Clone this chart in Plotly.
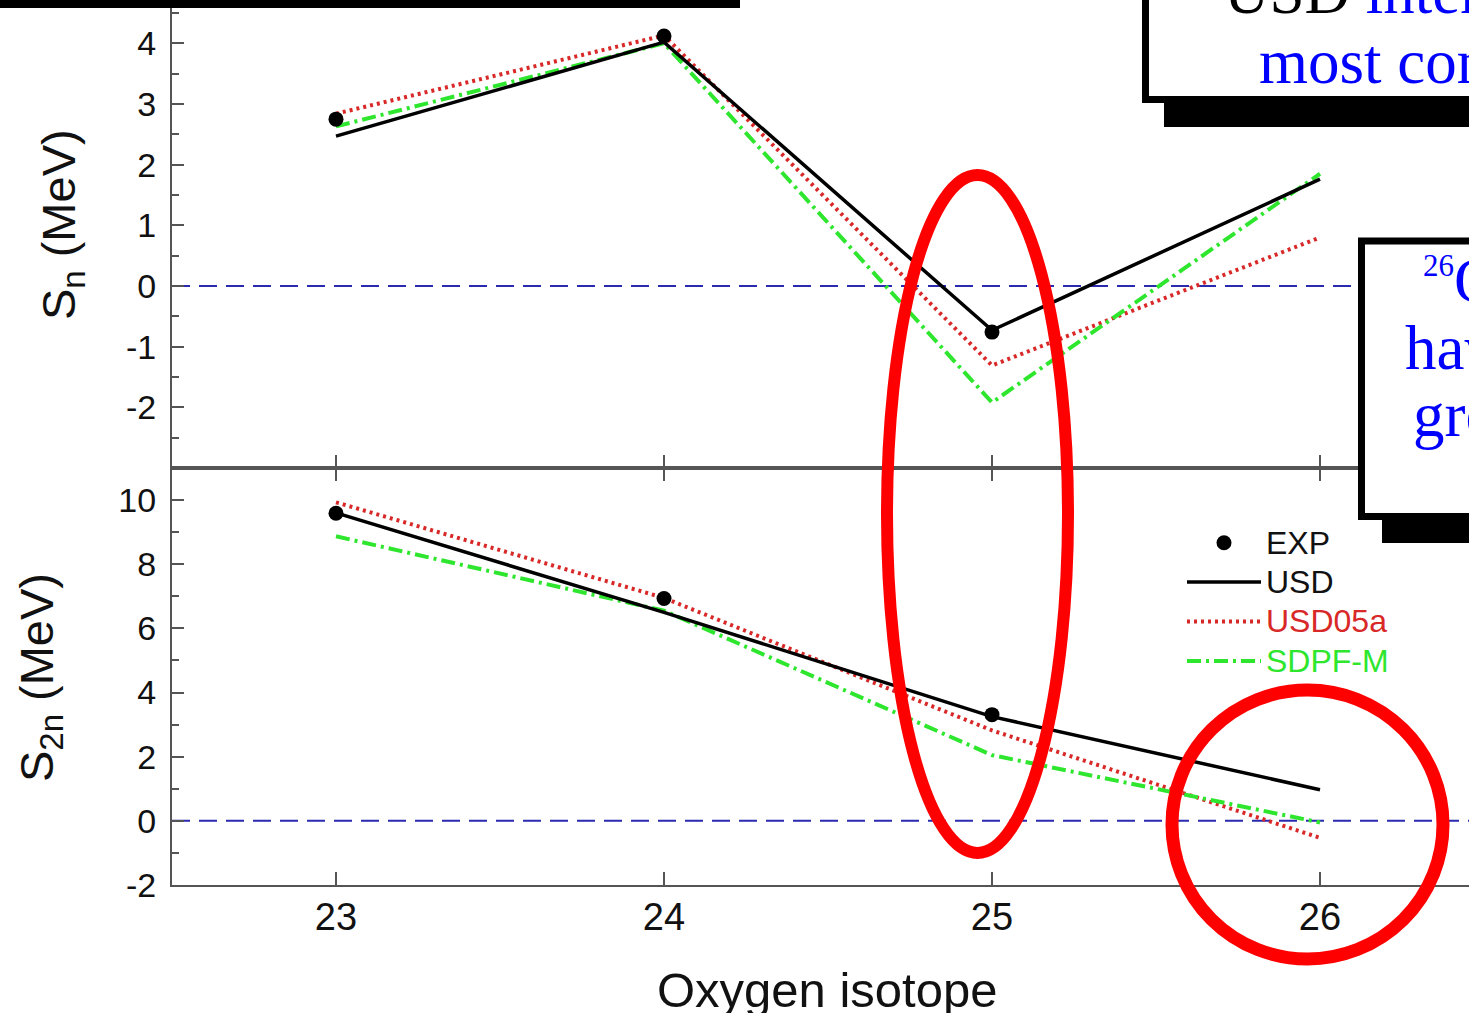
import plotly.graph_objects as go

W, H = 1469, 1013

isotopes = [23, 24, 25, 26]
exp_iso = [23, 24, 25]

# Sn (MeV)
sn_exp = [2.75, 4.12, -0.76]
sn_usd = [2.47, 4.02, -0.73, 1.76]
sn_usd05a = [2.84, 4.13, -1.31, 0.80]
sn_sdpfm = [2.63, 4.00, -1.92, 1.85]

# S2n (MeV)
s2n_exp = [9.59, 6.93, 3.31]
s2n_usd = [9.60, 6.50, 3.25, 0.97]
s2n_usd05a = [9.93, 6.95, 2.82, -0.53]
s2n_sdpfm = [8.87, 6.55, 2.05, -0.05]

sn_ticks = [-2, -1, 0, 1, 2, 3, 4]
s2n_ticks = [-2, 0, 2, 4, 6, 8, 10]

BLACK = "#000000"
RED = "#d82828"
GREEN = "#2ee62e"
BLUE_DASH = "#2a2ab0"
AXIS = "#555555"


def px(x):
    return x / W


def py(y):
    return 1 - y / H


def lbl(v):
    return str(v)  # plain hyphen minus, as in the original


fig = go.Figure()

series = [
    ("USD05a", RED, "3px,4px", 2, 4),
    ("SDPF-M", GREEN, "14px,5px,3px,5px", 3, 4),
    ("USD", BLACK, "solid", 1, 3.5),
]
top_vals = {"USD": sn_usd, "USD05a": sn_usd05a, "SDPF-M": sn_sdpfm}
bot_vals = {"USD": s2n_usd, "USD05a": s2n_usd05a, "SDPF-M": s2n_sdpfm}

for name, col, dash, rank, lw in series:
    label = f"<span style='font-size:32px;color:{col if col != BLACK else '#111'}'>{name}</span>"
    fig.add_trace(go.Scatter(x=isotopes, y=top_vals[name], mode="lines",
                             line=dict(color=col, width=lw, dash=dash),
                             xaxis="x", yaxis="y", showlegend=False))
    fig.add_trace(go.Scatter(x=isotopes, y=bot_vals[name], mode="lines",
                             line=dict(color=col, width=lw, dash=dash),
                             xaxis="x2", yaxis="y2", name=label, legendrank=rank))

fig.add_trace(go.Scatter(x=exp_iso, y=sn_exp, mode="markers",
                         marker=dict(color=BLACK, size=15), xaxis="x", yaxis="y",
                         showlegend=False))
fig.add_trace(go.Scatter(x=exp_iso, y=s2n_exp, mode="markers",
                         marker=dict(color=BLACK, size=15), xaxis="x2", yaxis="y2",
                         name="<span style='font-size:32px;color:#111'>EXP</span>",
                         legendrank=0))

x_range = [22.5, 22.5 + (W - 172) / 328.0]
top_dom = [py(468), 1]
bot_dom = [py(885), py(468)]
x_dom = [px(172), 1]

SANS = "Liberation Sans, Arial, sans-serif"
tickfont_y = dict(family=SANS, size=34, color="#111")
tickfont_x = dict(family=SANS, size=38, color="#111")

common_x = dict(range=x_range, domain=x_dom, tickvals=isotopes, showline=True,
                linecolor=AXIS, linewidth=2, ticks="inside", ticklen=13,
                tickwidth=2, tickcolor=AXIS, showgrid=False, zeroline=False,
                automargin=False)

fig.update_layout(
    width=W, height=H,
    margin=dict(l=0, r=0, t=0, b=0, autoexpand=False),
    paper_bgcolor="white", plot_bgcolor="white",
    xaxis=dict(common_x, anchor="y", showticklabels=False),
    yaxis=dict(domain=top_dom, range=[-3, -3 + 468 / 60.67], anchor="x",
               tickvals=sn_ticks, ticktext=[lbl(v) for v in sn_ticks],
               showline=True, linecolor=AXIS,
               linewidth=2, ticks="inside", ticklen=12, tickwidth=2, tickcolor=AXIS,
               minor=dict(ticks="inside", ticklen=7, tickcolor=AXIS, tickwidth=2,
                          tickvals=[-2.5, -1.5, -0.5, 0.5, 1.5, 2.5, 3.5, 4.5]),
               tickfont=tickfont_y, ticklabelstandoff=7, showgrid=False,
               zeroline=False, automargin=False),
    xaxis2=dict(common_x, anchor="y2", mirror="ticks", tickfont=tickfont_x,
                ticklabelstandoff=-3),
    yaxis2=dict(domain=bot_dom, range=[-2, 11], anchor="x2",
                tickvals=s2n_ticks, ticktext=[lbl(v) for v in s2n_ticks],
                showline=True, linecolor=AXIS,
                linewidth=2, ticks="inside", ticklen=12, tickwidth=2, tickcolor=AXIS,
                minor=dict(ticks="inside", ticklen=7, tickcolor=AXIS, tickwidth=2,
                           tickvals=[-1, 1, 3, 5, 7, 9]),
                tickfont=tickfont_y, ticklabelstandoff=7, showgrid=False,
                zeroline=False, automargin=False),
    legend=dict(x=px(1182), y=py(518), xanchor="left", yanchor="top",
                bgcolor="rgba(0,0,0,0)", itemwidth=74,
                font=dict(family=SANS, size=28, color="#111"),
                tracegroupgap=0),
    showlegend=True,
)

# zero reference lines
for yref, xref in (("y", "x"), ("y2", "x2")):
    fig.add_shape(type="line", xref=f"{xref} domain", yref=yref, x0=0, x1=1, y0=0, y1=0,
                  line=dict(color=BLUE_DASH, width=2, dash="18px,9px"), layer="below")

# axis titles
title_font = dict(family=SANS, size=47, color="#111")
fig.add_annotation(text="S<sub>n</sub> (MeV)", x=px(62), y=py(225), xref="paper",
                   yref="paper", textangle=-90, showarrow=False, font=title_font,
                   xanchor="center", yanchor="middle")
fig.add_annotation(text="S<sub>2n</sub> (MeV)", x=px(40), y=py(678), xref="paper",
                   yref="paper", textangle=-90, showarrow=False, font=title_font,
                   xanchor="center", yanchor="middle")
fig.add_annotation(text="Oxygen isotope", x=px(827), y=py(990), xref="paper",
                   yref="paper", showarrow=False,
                   font=dict(family=SANS, size=49, color="#111"),
                   xanchor="center", yanchor="middle")

# overlay boxes
def rect(x0, y0, x1, y1, fill, lw=0):
    fig.add_shape(type="rect", xref="paper", yref="paper",
                  x0=px(x0), x1=px(x1), y0=py(y0), y1=py(y1),
                  fillcolor=fill, line=dict(color="black", width=lw), layer="above")

rect(-20, -20, 740, 8, "black")
rect(1164, -20, W + 20, 127, "black")
rect(1145.5, -30, W + 30, 99.5, "white", 7)
rect(1382, 260, W + 20, 543, "black")
rect(1361.5, 241, W + 30, 516.5, "white", 7)

serif = dict(family="Liberation Serif, Times New Roman, serif", size=63, color="#0000ff")


def txt(s, x, y):
    fig.add_annotation(text=s, x=px(x), y=py(y), xref="paper", yref="paper",
                       xanchor="left", yanchor="middle", showarrow=False, font=serif)


txt("<span style='color:black'>USD </span>interaction", 1222, -8)
txt("most common", 1257, 62)
txt("<sup><span style='font-size:31px'>26</span></sup>O is", 1421, 281)
txt("have", 1403, 348)
txt("ground", 1411, 415)

# red ellipses
fig.add_shape(type="circle", xref="paper", yref="paper",
              x0=px(887), x1=px(1068), y0=py(175), y1=py(853),
              line=dict(color="#ff0000", width=12), layer="above")
fig.add_shape(type="circle", xref="paper", yref="paper",
              x0=px(1172), x1=px(1443), y0=py(690), y1=py(959),
              line=dict(color="#ff0000", width=13), layer="above")

fig.write_html("out.html")
